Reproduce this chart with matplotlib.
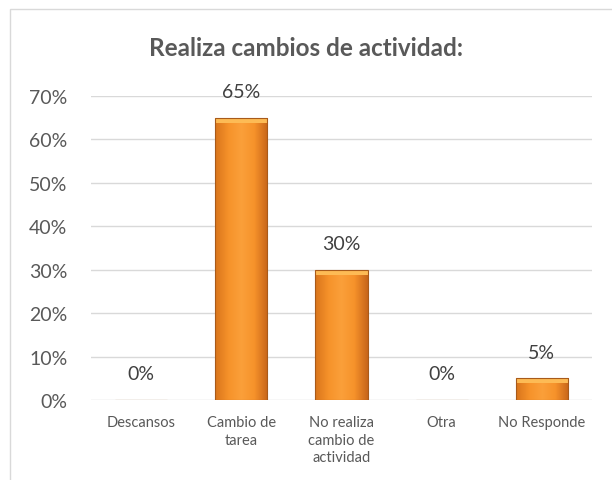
import matplotlib.pyplot as plt
from matplotlib.patches import Rectangle
from matplotlib.colors import LinearSegmentedColormap
import numpy as np

categorias = ['Descansos', 'Cambio de\ntarea', 'No realiza\ncambio de\nactividad', 'Otra', 'No Responde']
valores = [0.00, 0.65, 0.30, 0.00, 0.05]
etiquetas = ['0%', '65%', '30%', '0%', '5%']
ticks_y = [0, 0.1, 0.2, 0.3, 0.4, 0.5, 0.6, 0.7]

plt.rcParams['font.family'] = ['Lato', 'DejaVu Sans']

fig = plt.figure(figsize=(6.12, 4.81), dpi=100)
# marco del grafico
fig.patches.append(Rectangle((10 / 612, -0.1), 1.2, 1 - 10 / 481 + 0.1, transform=fig.transFigure,
                             fill=False, edgecolor='#d9d9d9', linewidth=1))

ax = fig.add_axes([91 / 612, 1 - 401 / 481, (592 - 91) / 612, (401 - 97) / 481])
x = np.arange(len(categorias))
barras = ax.bar(x, valores, width=0.52, color='none', edgecolor='#A85A1A', linewidth=0.8, zorder=4)

# degradado horizontal dentro de cada barra
cmap = LinearSegmentedColormap.from_list('naranja', ['#D9751C', '#F6922A', '#FBA03A', '#F6922A', '#C8661A'])
grad = np.linspace(0, 1, 64).reshape(1, -1)
for b in barras:
    h = b.get_height()
    if h > 0:
        im = ax.imshow(grad, cmap=cmap, aspect='auto', zorder=3,
                       extent=(b.get_x(), b.get_x() + b.get_width(), 0, h))
        im.set_clip_path(b)
        # bisel superior
        ax.add_patch(Rectangle((b.get_x(), h - 0.012), b.get_width(), 0.012,
                               color='#FDBB55', zorder=3.5, linewidth=0))

for xi, v, t in zip(x, valores, etiquetas):
    ax.annotate(t, (xi, v), xytext=(0, 26), textcoords='offset pixels',
                ha='center', va='center', fontsize=14, color='#404040')

ax.set_xlim(-0.5, len(categorias) - 0.5)
ax.set_ylim(0, 0.7)
ax.set_yticks(ticks_y)
ax.set_yticklabels([f'{int(round(t * 100))}%' for t in ticks_y], fontsize=14, color='#595959')
ax.set_xticks(x)
ax.set_xticklabels(categorias, fontsize=10.5, color='#595959', linespacing=1.3, va='top')
ax.tick_params(axis='both', length=0)
ax.tick_params(axis='y', pad=17)
ax.tick_params(axis='x', pad=11)
for s in ax.spines.values():
    s.set_visible(False)
ax.grid(axis='y', color='#d9d9d9', linewidth=1, zorder=0)
ax.set_axisbelow(True)

fig.text(0.5, 1 - 48 / 481, 'Realiza cambios de actividad:', ha='center', va='center',
         fontsize=17.5, fontweight='bold', color='#595959')

plt.savefig('out.png', dpi=100)
